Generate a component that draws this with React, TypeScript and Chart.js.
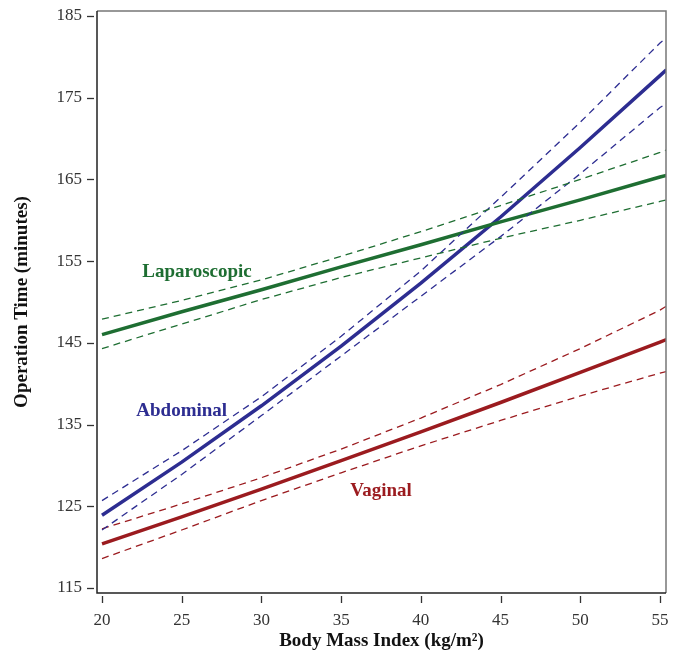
import { useEffect, useRef } from "react";
import { Chart, registerables } from "chart.js";

Chart.register(...registerables);

// BMI values at which the fitted curves are sampled
const bmi = [20, 25, 30, 35, 40, 45, 50, 55, 55.4];

const laparoscopicFit = [146.0, 148.8, 151.5, 154.3, 157.0, 159.8, 162.5, 165.3, 165.5];
const laparoscopicUpper = [147.9, 150.2, 152.7, 155.6, 158.6, 161.8, 165.0, 168.3, 168.6];
const laparoscopicLower = [144.3, 147.3, 150.3, 153.0, 155.4, 157.8, 160.0, 162.3, 162.5];

const abdominalFit = [123.9, 130.4, 137.3, 144.6, 152.3, 160.4, 168.9, 177.7, 178.4];
const abdominalUpper = [125.7, 131.8, 138.4, 145.8, 153.8, 162.8, 172.0, 181.7, 182.3];
const abdominalLower = [122.1, 128.9, 136.1, 143.4, 150.7, 158.0, 165.7, 173.8, 174.3];

const vaginalFit = [120.4, 123.7, 127.1, 130.6, 134.1, 137.7, 141.4, 145.1, 145.4];
const vaginalUpper = [122.25, 125.3, 128.5, 132.0, 135.8, 139.9, 144.3, 149.0, 149.5];
const vaginalLower = [118.6, 122.1, 125.7, 129.1, 132.4, 135.5, 138.5, 141.3, 141.5];

const xTicks = [20, 25, 30, 35, 40, 45, 50, 55];
const yTicks = [115, 125, 135, 145, 155, 165, 175, 185];

const seriesNames = ["Laparoscopic", "Abdominal", "Vaginal"];
const xTitle = "Body Mass Index (kg/m²)";
const yTitle = "Operation Time (minutes)";

const GREEN = "#1e6e32";
const BLUE = "#2d2d91";
const RED = "#9b1b1f";
const SERIF = '"Liberation Serif", "Times New Roman", serif';

// label anchors in data units (x = BMI, y = minutes)
const labelAnchors = [
  { x: 25.96, y: 153.7, color: GREEN },
  { x: 25.0, y: 136.7, color: BLUE },
  { x: 37.5, y: 126.8, color: RED },
];

const pts = (ys: number[]) => bmi.map((x, i) => ({ x, y: ys[i] }));

const solid = (label: string, ys: number[], color: string) => ({
  label,
  data: pts(ys),
  borderColor: color,
  borderWidth: 3.5,
  pointRadius: 0,
  fill: false,
  tension: 0,
});
const dashed = (label: string, ys: number[], color: string) => ({
  label,
  data: pts(ys),
  borderColor: color,
  borderWidth: 1.3,
  borderDash: [7, 5],
  pointRadius: 0,
  fill: false,
  tension: 0,
});

const decor = {
  id: "decor",
  afterDraw(chart: any) {
    const { ctx, chartArea: a, scales } = chart;
    const x = scales.x;
    const y = scales.y;
    ctx.save();
    ctx.lineWidth = 1.5;
    ctx.strokeStyle = "#777";
    ctx.beginPath();
    ctx.moveTo(a.left, a.top);
    ctx.lineTo(a.right, a.top);
    ctx.lineTo(a.right, a.bottom);
    ctx.stroke();
    ctx.strokeStyle = "#222";
    ctx.beginPath();
    ctx.moveTo(a.left, a.top);
    ctx.lineTo(a.left, a.bottom);
    ctx.lineTo(a.right, a.bottom);
    ctx.stroke();

    ctx.lineWidth = 1.3;
    ctx.strokeStyle = "#333";
    for (const v of yTicks) {
      const py = Math.round(y.getPixelForValue(v)) + 0.5;
      ctx.beginPath();
      ctx.moveTo(a.left - 10, py);
      ctx.lineTo(a.left - 3, py);
      ctx.stroke();
    }
    for (const v of xTicks) {
      const px = Math.round(x.getPixelForValue(v)) + 0.5;
      ctx.beginPath();
      ctx.moveTo(px, a.bottom + 3);
      ctx.lineTo(px, a.bottom + 10);
      ctx.stroke();
    }

    ctx.fillStyle = "#111";
    ctx.font = `bold 19px ${SERIF}`;
    ctx.textAlign = "center";
    ctx.textBaseline = "middle";
    ctx.fillText(xTitle, (a.left + a.right) / 2, 641);
    ctx.save();
    ctx.translate(22, (a.top + a.bottom) / 2);
    ctx.rotate(-Math.PI / 2);
    ctx.fillText(yTitle, 0, 0);
    ctx.restore();

    ctx.font = `bold 19px ${SERIF}`;
    labelAnchors.forEach((p, i) => {
      ctx.fillStyle = p.color;
      ctx.fillText(seriesNames[i], x.getPixelForValue(p.x), y.getPixelForValue(p.y));
    });
    ctx.restore();
  },
};

export default function App() {
  const ref = useRef<HTMLCanvasElement | null>(null);
  useEffect(() => {
    if (!ref.current) return;
    const chart = new Chart(ref.current, {
      type: "line",
      data: {
        datasets: [
          dashed("Laparoscopic upper", laparoscopicUpper, GREEN),
          dashed("Laparoscopic lower", laparoscopicLower, GREEN),
          dashed("Abdominal upper", abdominalUpper, BLUE),
          dashed("Abdominal lower", abdominalLower, BLUE),
          dashed("Vaginal upper", vaginalUpper, RED),
          dashed("Vaginal lower", vaginalLower, RED),
          solid(seriesNames[0], laparoscopicFit, GREEN),
          solid(seriesNames[1], abdominalFit, BLUE),
          solid(seriesNames[2], vaginalFit, RED),
        ] as any,
      },
      options: {
        animation: false,
        responsive: false,
        maintainAspectRatio: false,
        layout: { padding: { left: 0, top: 11, right: 18, bottom: 0 } },
        plugins: { legend: { display: false }, tooltip: { enabled: false } },
        scales: {
          x: {
            type: "linear",
            min: 19.686,
            max: 55.376,
            grid: { display: false, drawTicks: false },
            border: { display: false },
            afterFit: (s: any) => {
              s.height = 69;
              s.paddingLeft = 0;
              s.paddingRight = 0;
            },
            afterBuildTicks: (s: any) => {
              s.ticks = xTicks.map((v) => ({ value: v }));
            },
            ticks: {
              font: { family: SERIF, size: 17 },
              color: "#333",
              padding: 17,
              maxRotation: 0,
              autoSkip: false,
            },
          },
          y: {
            type: "linear",
            min: 114.39,
            max: 185.61,
            grid: { display: false, drawTicks: false },
            border: { display: false },
            afterFit: (s: any) => {
              s.width = 97;
              s.paddingTop = 0;
              s.paddingBottom = 0;
            },
            afterBuildTicks: (s: any) => {
              s.ticks = yTicks.map((v) => ({ value: v }));
            },
            ticks: {
              font: { family: SERIF, size: 17 },
              color: "#333",
              padding: 15,
              autoSkip: false,
            },
          },
        },
      },
      plugins: [decor],
    });
    return () => chart.destroy();
  }, []);
  return (
    <div style={{ position: "absolute", left: 0, top: 0, width: 684, height: 662, background: "#fff" }}>
      <canvas ref={ref} width={684} height={662} style={{ width: 684, height: 662 }} />
    </div>
  );
}
